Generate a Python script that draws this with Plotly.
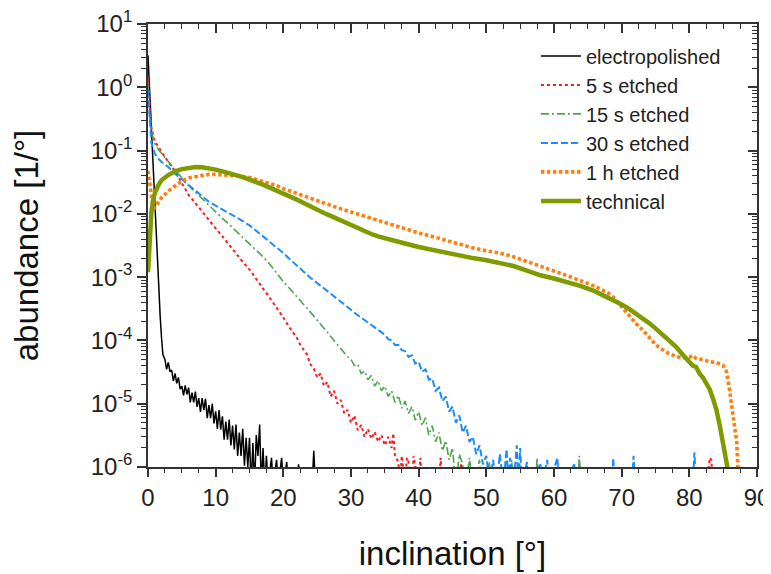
import plotly.graph_objects as go

# ---------------- data ----------------
ep_x = [0, 0.2, 0.4, 0.6, 0.8, 1.0, 1.2, 1.4, 1.6, 1.8, 2.0, 2.2,
        2.5, 2.75, 3, 3.25, 3.5, 3.75, 4, 4.25, 4.5, 4.75, 5, 5.25, 5.5, 5.75,
        6, 6.25, 6.5, 6.75, 7, 7.25, 7.5, 7.75, 8, 8.25, 8.5, 8.75, 9, 9.25,
        9.5, 9.75, 10, 10.25, 10.5, 10.75, 11, 11.25, 11.5, 11.75, 12, 12.25,
        12.5, 12.75, 13, 13.25, 13.5, 13.75, 14, 14.25, 14.5, 14.75, 15, 15.25,
        15.5, 15.75, 16, 16.25, 16.5, 16.75, 17, 17.25, 17.5, 17.75,
        18.25, 18.5, 19.0, 19.25, 19.75, 20.0, 20.5, 20.75, 22.0, 22.25, 22.5,
        24.25, 24.5, 24.75]
ep_y = [3.2, 1.05, 0.35, 0.115, 0.038, 0.0125, 4.2e-3, 1.4e-3, 5.5e-4, 2.4e-4, 1.1e-4, 6e-5,
        5.0e-5, 3.5e-5, 4.5e-5, 3.2e-5, 3.4e-5, 2.3e-5, 3.0e-5, 2.1e-5, 2.6e-5, 1.7e-5, 1.9e-5,
        1.35e-5, 1.95e-5, 1.4e-5, 1.8e-5, 1.05e-5, 1.5e-5, 1.05e-5, 1.55e-5, 8.9e-6, 1.23e-5,
        7.4e-6, 1.23e-5, 7.9e-6, 1.2e-5, 5.9e-6, 9.5e-6, 5.9e-6, 1.0e-5, 4.9e-6, 7.6e-6, 4.0e-6,
        7.9e-6, 3.9e-6, 6.3e-6, 2.7e-6, 5.2e-6, 2.7e-6, 5.6e-6, 2.2e-6, 4.5e-6, 1.9e-6, 4.7e-6,
        1.5e-6, 3.5e-6, 1.5e-6, 4.0e-6, 1.05e-6, 2.9e-6, 1.0e-6, 2.9e-6, 5e-7, 2.4e-6, 5e-7,
        3.2e-6, 1.5e-6, 4.7e-6, 5e-7, 2.0e-6, 5e-7, 1.5e-6, 5e-7,
        1.4e-6, 5e-7, 1.3e-6, 5e-7, 1.4e-6, 5e-7, 1.2e-6, 5e-7, 5e-7, 1.1e-6, 5e-7,
        5e-7, 1.8e-6, 5e-7]

e5_x = [0, 0.25, 0.5, 1.0, 1.5, 2, 3, 4, 5, 6, 7, 8, 9, 10, 11, 12, 13, 14, 15, 16,
        17, 18, 19, 20, 21, 21.5, 22, 22.5, 23, 23.5,
        24, 24.5, 25, 25.5, 26, 26.5, 27, 27.5, 28, 28.5, 29, 29.5, 30, 30.5, 31, 31.5,
        32, 32.5, 33, 33.5, 34, 34.5, 35, 35.5, 36, 36.25, 36.5, 37, 37.25, 37.5, 38,
        38.25, 38.5, 39, 39.25, 39.5, 40, 40.25, 40.5,
        43.0, 43.25, 43.5, 46.0, 46.25, 46.5, 55.75, 56.0, 56.25, 82.75, 83.0, 83.25, 83.5]
e5_y = [1.4, 0.45, 0.23, 0.14, 0.115, 0.095, 0.066, 0.047, 0.030, 0.020, 0.0148, 0.0108,
        0.0081, 0.0059, 0.0044, 0.0032, 0.0024, 0.00175, 0.00132, 0.00095, 0.00066, 0.00047,
        0.00033, 0.00023, 1.55e-4, 1.3e-4, 1.1e-4, 8.5e-5, 7.0e-5, 6.0e-5,
        4.2e-5, 3.6e-5, 2.6e-5, 3.0e-5, 1.9e-5, 2.2e-5, 1.3e-5, 1.6e-5, 1.0e-5, 1.15e-5,
        7.0e-6, 8.0e-6, 5.0e-6, 6.5e-6, 3.8e-6, 4.6e-6, 3.0e-6, 4.0e-6, 2.8e-6, 3.6e-6,
        2.5e-6, 3.2e-6, 2.2e-6, 3.0e-6, 2.0e-6, 3.4e-6, 1.5e-6, 1.2e-6, 5e-7, 1.5e-6, 5e-7,
        1.4e-6, 1.2e-6, 5e-7, 1.5e-6, 1.1e-6, 5e-7, 1.4e-6, 5e-7,
        5e-7, 1.4e-6, 5e-7, 5e-7, 1.15e-6, 5e-7, 5e-7, 1.1e-6, 5e-7, 5e-7, 1.4e-6, 1.3e-6, 5e-7]

e15_x = [0, 0.25, 0.5, 1, 1.5, 2, 3, 4, 5, 6, 7, 8, 9, 10, 11, 12, 13, 14, 15, 16, 17,
         18, 19, 20, 21, 22, 23, 24, 25,
         25.5, 26, 26.5, 27, 27.5, 28, 28.5, 29, 29.5, 30, 30.5, 31, 31.5, 32, 32.5, 33,
         33.5, 34, 34.5, 35, 35.5, 36, 36.5, 37, 37.5, 38, 38.5, 39, 39.5, 40, 40.5, 41,
         41.5, 42, 42.5, 43, 43.5, 44, 44.5, 45, 45.5, 46, 46.5, 47, 47.5, 48,
         49.0, 49.25, 50.5, 50.75, 53.5, 53.75, 54.0, 57.25, 57.5, 57.75, 63.5, 63.75, 64.0]
e15_y = [1.1, 0.35, 0.2, 0.13, 0.105, 0.09, 0.066, 0.049, 0.037, 0.028, 0.022, 0.017,
         0.0135, 0.0105, 0.0085, 0.0068, 0.0054, 0.0042, 0.0033, 0.0027, 0.0021, 0.0016,
         0.00115, 0.00085, 0.00065, 0.0005, 0.00037, 0.00028, 0.00021,
         1.85e-4, 1.6e-4, 1.35e-4, 1.15e-4, 1.0e-4, 8.5e-5, 7.5e-5, 6.5e-5, 5.5e-5, 5.0e-5,
         4.0e-5, 4.2e-5, 3.0e-5, 3.3e-5, 2.4e-5, 2.8e-5, 1.9e-5, 2.3e-5, 1.6e-5, 1.9e-5,
         1.3e-5, 1.6e-5, 1.05e-5, 1.35e-5, 8.5e-6, 1.1e-5, 7.0e-6, 9.0e-6, 5.5e-6, 7.5e-6,
         4.5e-6, 6.0e-6, 3.2e-6, 4.5e-6, 2.5e-6, 3.5e-6, 1.8e-6, 2.6e-6, 1.3e-6, 2.0e-6,
         5e-7, 1.6e-6, 1.1e-6, 5e-7, 1.4e-6, 5e-7,
         1.3e-6, 5e-7, 1.2e-6, 5e-7, 5e-7, 1.3e-6, 5e-7, 5e-7, 1.4e-6, 5e-7, 5e-7, 1.5e-6, 5e-7]

e30_x = [0, 0.25, 0.5, 1, 1.5, 2, 3, 4, 5, 6, 7, 8, 9, 10, 11, 12, 13, 14, 15, 16, 17,
         18, 19, 20, 21, 22, 23, 24, 25, 26, 27, 28, 29, 30, 31, 32, 33, 34, 35,
         35.5, 36, 36.5, 37, 37.5, 38, 38.5, 39, 39.5, 40, 40.5, 41, 41.5, 42, 42.5, 43,
         43.5, 44, 44.5, 45, 45.5, 46, 46.5, 47, 47.5, 48, 48.5, 49, 49.5, 50, 50.5,
         51, 51.5, 52, 52.5, 53, 53.25, 53.5, 54, 54.5, 54.75, 55, 55.25, 56, 56.25,
         58, 58.25, 59, 59.25, 60.5, 60.75, 63, 63.25, 68.5, 68.75, 69, 71.5, 71.75, 72,
         80.5, 80.75, 81]
e30_y = [0.9, 0.3, 0.13, 0.09, 0.075, 0.066, 0.055, 0.043, 0.035, 0.029, 0.024, 0.019,
         0.0155, 0.0135, 0.0118, 0.0103, 0.0089, 0.0077, 0.0066, 0.0054, 0.0045, 0.0037,
         0.003, 0.0024, 0.0019, 0.0015, 0.00122, 0.00098, 0.0008, 0.00066, 0.00055, 0.00045,
         0.00037, 0.0003, 0.00025, 0.00021, 1.75e-4, 1.46e-4, 1.23e-4,
         1.05e-4, 1.0e-4, 8.5e-5, 8.5e-5, 7.0e-5, 6.8e-5, 5.5e-5, 5.8e-5, 4.3e-5, 4.6e-5,
         3.2e-5, 3.5e-5, 2.4e-5, 2.5e-5, 1.6e-5, 1.8e-5, 1.1e-5, 1.3e-5, 7.5e-6, 9.0e-6,
         5.0e-6, 6.5e-6, 3.5e-6, 4.5e-6, 2.5e-6, 3.0e-6, 1.6e-6, 2.2e-6, 1.1e-6, 1.5e-6, 5e-7,
         1.3e-6, 5e-7, 1.6e-6, 5e-7, 1.9e-6, 5e-7, 1.4e-6, 5e-7, 2.2e-6, 5e-7, 2.0e-6, 5e-7,
         1.2e-6, 5e-7, 1.1e-6, 5e-7, 1.3e-6, 5e-7, 1.4e-6, 5e-7, 1.1e-6, 5e-7, 5e-7, 1.4e-6,
         5e-7, 5e-7, 1.5e-6, 5e-7, 5e-7, 1.7e-6, 5e-7]

h1_x = [0, 0.25, 0.5, 0.75, 1.0, 1.5, 2, 3, 4, 5, 6, 7, 8, 9, 10, 11, 12, 13, 14, 15,
        16, 17, 18, 19, 20, 22, 24, 26, 28, 30, 32, 34, 36, 38, 40, 42, 44, 46, 48, 50,
        52, 54, 56, 58, 60, 62, 64, 66, 68, 69, 70, 71, 72, 73, 74, 75, 76, 77, 78, 79,
        80, 80.5, 81, 82, 83, 84, 85, 85.5, 86, 86.5, 87, 87.3]
h1_y = [0.048, 0.03, 0.018, 0.013, 0.0125, 0.015, 0.018, 0.023, 0.028, 0.033, 0.037,
        0.039, 0.041, 0.042, 0.042, 0.0415, 0.041, 0.040, 0.039, 0.0375, 0.035, 0.032,
        0.030, 0.028, 0.025, 0.021, 0.0175, 0.0145, 0.0125, 0.0107, 0.0092, 0.0078, 0.0066,
        0.0058, 0.0050, 0.0044, 0.0038, 0.0033, 0.0029, 0.0026, 0.0024, 0.0021, 0.00175,
        0.00145, 0.00125, 0.00105, 0.00088, 0.00072, 0.00056, 0.00046, 0.00034, 0.00025,
        0.00019, 0.00015, 1.12e-4, 8.6e-5, 7.2e-5, 6.2e-5, 5.6e-5, 5.3e-5, 5.4e-5, 5.8e-5,
        5.2e-5, 5.0e-5, 4.6e-5, 4.5e-5, 4.0e-5, 3.2e-5, 1.5e-5, 6e-6, 2.5e-6, 5e-7]

tc_x = [0, 0.15, 0.3, 0.5, 0.75, 1.0, 1.5, 2, 3, 4, 5, 6, 7, 8, 9, 10, 11, 12, 13, 14,
        15, 16, 17, 18, 19, 20, 21, 22, 23, 24, 25, 26, 27, 28, 29, 30, 31, 32, 33, 34,
        35, 36, 37, 38, 40, 42, 44, 46, 48, 50, 52, 54, 56, 58, 60, 62, 64, 66, 68, 70,
        71, 72, 73, 74, 75, 76, 77, 78, 79, 79.5, 80, 80.5, 81, 81.5, 82, 82.5, 83, 83.5,
        84, 84.5, 85, 85.5, 86]
tc_y = [1.2e-3, 3.0e-3, 5.5e-3, 0.0105, 0.0165, 0.021, 0.028, 0.034, 0.041, 0.047,
        0.051, 0.054, 0.055, 0.0545, 0.053, 0.050, 0.047, 0.0445, 0.041, 0.038, 0.035,
        0.032, 0.029, 0.026, 0.0235, 0.021, 0.019, 0.0168, 0.0148, 0.013, 0.0116, 0.0103,
        0.0093, 0.0083, 0.0074, 0.0066, 0.0059, 0.0053, 0.0048, 0.0044, 0.0041, 0.0038,
        0.0036, 0.0034, 0.0030, 0.0027, 0.0024, 0.0022, 0.0020, 0.00185, 0.0017, 0.0015,
        0.00127, 0.00107, 0.00095, 0.00083, 0.00072, 0.0006, 0.00048, 0.00037, 0.00032,
        0.00027, 0.00023, 0.00019, 0.000155, 0.000125, 0.0001, 8e-5, 6e-5, 5.2e-5, 4.4e-5,
        4.0e-5, 3.8e-5, 3.0e-5, 2.6e-5, 2.1e-5, 1.7e-5, 1.2e-5, 8e-6, 4.5e-6, 2.1e-6,
        1.2e-6, 6e-7]

series_names = ["electropolished", "5 s etched", "15 s etched", "30 s etched",
                "1 h etched", "technical"]

y_tick_vals = [1e-6, 1e-5, 1e-4, 1e-3, 1e-2, 1e-1, 1e0, 1e1]
y_tick_text = ["10<sup>-6</sup>", "10<sup>-5</sup>", "10<sup>-4</sup>", "10<sup>-3</sup>",
               "10<sup>-2</sup>", "10<sup>-1</sup>", "10<sup>0</sup>", "10<sup>1</sup>"]
y_minor_vals = [m * 10.0 ** e for e in range(-6, 1) for m in range(2, 10)]
x_tick_vals = [0, 10, 20, 30, 40, 50, 60, 70, 80, 90]

# ---------------- styles ----------------
styles = [
    dict(color="#000000", width=1.5, dash="solid"),
    dict(color="#ff1a1a", width=2, dash="3px,3px"),
    dict(color="#4da64d", width=1.6, dash="8px,3px,2px,3px"),
    dict(color="#1a8cff", width=2, dash="7px,3px"),
    dict(color="#ff7f0e", width=3.6, dash="3.5px,2.5px"),
    dict(color="#809b00", width=4.5, dash="solid"),
]
data = [(ep_x, ep_y), (e5_x, e5_y), (e15_x, e15_y), (e30_x, e30_y), (h1_x, h1_y), (tc_x, tc_y)]

fig = go.Figure()
for (xs, ys), name, st in zip(data, series_names, styles):
    fig.add_trace(go.Scatter(x=xs, y=ys, mode="lines", name=name, line=st))

# invisible trace for mirrored axes
fig.add_trace(go.Scatter(x=[0], y=[1], xaxis="x2", yaxis="y2", mode="markers",
                         marker=dict(opacity=0), showlegend=False, hoverinfo="skip"))

axis_color = "#333333"
font_family = "Liberation Sans, Arial, sans-serif"

# page body has an 8px margin, so the figure is drawn 8px in from the corner
fig.update_layout(
    width=763, height=566,
    margin=dict(l=140, r=14, t=16, b=107, autoexpand=False),
    paper_bgcolor="white", plot_bgcolor="white",
    font=dict(family=font_family, color="#222222"),
    showlegend=True,
    legend=dict(x=0.637, y=0.972, xanchor="left", yanchor="top",
                bgcolor="rgba(0,0,0,0)", font=dict(size=20, color="#222222"),
                tracegroupgap=0, itemwidth=40),
    xaxis=dict(range=[0, 90], tickvals=x_tick_vals, ticks="outside", ticklen=8,
               tickwidth=1.5, tickcolor=axis_color, showline=True, linewidth=1.8,
               linecolor=axis_color, showgrid=False, zeroline=False, automargin=False,
               ticklabeloverflow="allow",
               tickfont=dict(size=24, color="#222222"),
               minor=dict(dtick=2.5, tick0=0, ticks="outside", ticklen=4, tickwidth=1.2,
                          tickcolor=axis_color, showgrid=False),
               title=dict(text="inclination [°]", font=dict(size=33, color="#111111"),
                          standoff=32)),
    yaxis=dict(type="log", range=[-6, 1], tickvals=y_tick_vals, ticktext=y_tick_text,
               ticks="outside", ticklen=9, tickwidth=1.5, tickcolor=axis_color,
               showline=True, linewidth=1.8, linecolor=axis_color, showgrid=False,
               zeroline=False, automargin=False, ticklabeloverflow="allow",
               tickfont=dict(size=24, color="#222222"),
               minor=dict(tickmode="array", tickvals=y_minor_vals, ticks="outside",
                          ticklen=5, tickwidth=1.2, tickcolor=axis_color, showgrid=False),
               title=dict(text="abundance [1/°]", font=dict(size=33, color="#111111"),
                          standoff=46)),
    xaxis2=dict(range=[0, 90], overlaying="x", side="top", anchor="y",
                tickvals=x_tick_vals, ticks="inside", ticklen=9, tickwidth=1.5,
                tickcolor=axis_color, showticklabels=False, showline=True,
                linewidth=1.8, linecolor=axis_color, showgrid=False, zeroline=False,
                automargin=False,
                minor=dict(dtick=2.5, tick0=0, ticks="inside", ticklen=5, tickwidth=1.2,
                           tickcolor=axis_color, showgrid=False)),
    yaxis2=dict(type="log", range=[-6, 1], overlaying="y", side="right", anchor="x",
                tickvals=y_tick_vals, ticks="inside", ticklen=9, tickwidth=1.5,
                tickcolor=axis_color, showticklabels=False, showline=True,
                linewidth=1.8, linecolor=axis_color, showgrid=False, zeroline=False,
                automargin=False,
                minor=dict(tickmode="array", tickvals=y_minor_vals, ticks="inside",
                           ticklen=5, tickwidth=1.2, tickcolor=axis_color, showgrid=False)),
)

fig.write_html("out.html")
